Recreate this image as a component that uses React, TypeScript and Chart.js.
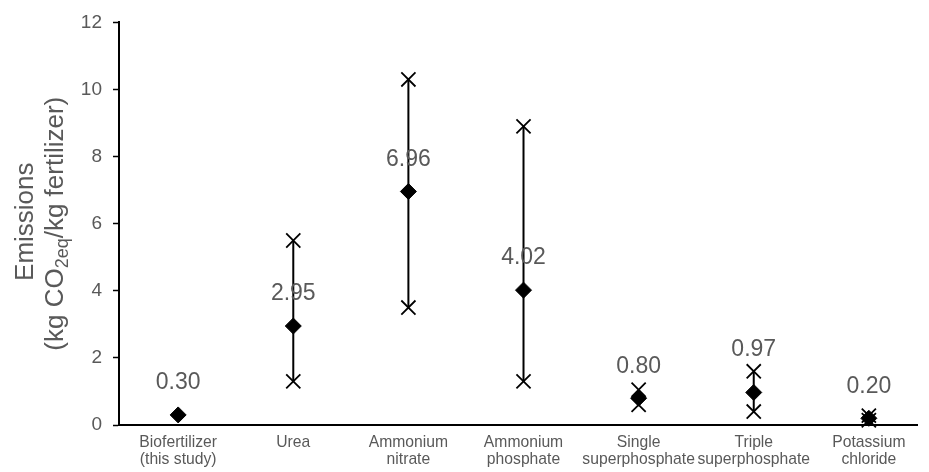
import React, { useEffect, useRef } from 'react';
import { Chart, registerables } from 'chart.js';

Chart.register(...registerables);

const categories: string[][] = [
  ['Biofertilizer', '(this study)'],
  ['Urea'],
  ['Ammonium', 'nitrate'],
  ['Ammonium', 'phosphate'],
  ['Single', 'superphosphate'],
  ['Triple', 'superphosphate'],
  ['Potassium', 'chloride'],
];
const means: number[] = [0.3, 2.95, 6.96, 4.02, 0.8, 0.97, 0.2];
const maxs: (number | null)[] = [null, 5.5, 10.3, 8.9, 1.05, 1.6, 0.28];
const mins: (number | null)[] = [null, 1.3, 3.5, 1.3, 0.6, 0.4, 0.14];
const yTicks: number[] = [0, 2, 4, 6, 8, 10, 12];

const FONT = "'Liberation Sans', Arial, sans-serif";
const GREY = '#595959';

const labelPlugin = {
  id: 'meanLabels',
  afterDatasetsDraw(chart: any) {
    const { ctx, scales } = chart;
    const xs = scales.x;
    const ys = scales.y;
    ctx.save();
    ctx.font = `23px ${FONT}`;
    ctx.fillStyle = GREY;
    ctx.textAlign = 'center';
    ctx.textBaseline = 'middle';
    means.forEach((m, i) => {
      const px = xs.getPixelForValue(i);
      const py = ys.getPixelForValue(m);
      let ly = py - 32;
      const mx = maxs[i];
      if (mx !== null) {
        const mpy = ys.getPixelForValue(mx);
        if (mpy > ly && mpy < py) ly = Math.min(ly, mpy - 22);
      }
      ctx.fillText(m.toFixed(2), px, ly);
    });
    ctx.restore();
  },
};

const titlePlugin = {
  id: 'yTitle',
  afterDraw(chart: any) {
    const { ctx, chartArea } = chart;
    const cy = (chartArea.top + chartArea.bottom) / 2;
    ctx.save();
    ctx.fillStyle = GREY;
    ctx.textBaseline = 'alphabetic';
    ctx.save();
    ctx.translate(33, cy - 2);
    ctx.rotate(-Math.PI / 2);
    ctx.font = `26px ${FONT}`;
    ctx.textAlign = 'center';
    ctx.fillText('Emissions', 0, 0);
    ctx.restore();
    ctx.save();
    ctx.translate(63, cy);
    ctx.rotate(-Math.PI / 2);
    ctx.textAlign = 'left';
    const main = `26px ${FONT}`;
    const sub = `18px ${FONT}`;
    const p1 = '(kg CO';
    const p2 = '2eq';
    const p3 = '/kg fertilizer)';
    ctx.font = main;
    const w1 = ctx.measureText(p1).width;
    const w3 = ctx.measureText(p3).width;
    ctx.font = sub;
    const w2 = ctx.measureText(p2).width;
    const total = w1 + w2 + w3;
    let x = -total / 2;
    ctx.font = main;
    ctx.fillText(p1, x, 0);
    x += w1;
    ctx.font = sub;
    ctx.fillText(p2, x, 5);
    x += w2;
    ctx.font = main;
    ctx.fillText(p3, x, 0);
    ctx.restore();
    ctx.restore();
  },
};

export default function App() {
  const ref = useRef<HTMLCanvasElement | null>(null);

  useEffect(() => {
    if (!ref.current) return;
    const rangeData: any[] = [];
    const crossData: any[] = [];
    means.forEach((_, i) => {
      const lo = mins[i];
      const hi = maxs[i];
      if (lo !== null && hi !== null) {
        rangeData.push({ x: i, y: lo }, { x: i, y: hi }, { x: i + 0.5, y: null });
        crossData.push({ x: i, y: lo }, { x: i, y: hi });
      }
    });
    const meanData = means.map((m, i) => ({ x: i, y: m }));

    const chart = new Chart(ref.current, {
      type: 'scatter',
      data: {
        datasets: [
          {
            type: 'scatter',
            data: meanData,
            pointStyle: 'rectRot',
            pointRadius: 8,
            pointHoverRadius: 8,
            backgroundColor: '#000',
            borderColor: '#000',
            borderWidth: 1,
            clip: false,
          } as any,
          {
            type: 'scatter',
            data: crossData,
            pointStyle: 'crossRot',
            pointRadius: 10,
            pointHoverRadius: 10,
            backgroundColor: '#000',
            borderColor: '#000',
            borderWidth: 1.8,
            clip: false,
          } as any,
          {
            type: 'line',
            data: rangeData,
            borderColor: '#000',
            borderWidth: 2,
            pointRadius: 0,
            spanGaps: false,
            fill: false,
            clip: false,
          } as any,
        ],
      },
      options: {
        animation: false,
        responsive: true,
        maintainAspectRatio: false,
        layout: { padding: { top: 19, left: 0, right: 0, bottom: 0 } },
        plugins: {
          legend: { display: false },
          tooltip: { enabled: false },
        },
        scales: {
          x: {
            type: 'linear',
            min: -0.514,
            max: 6.42,
            grid: { display: false, drawTicks: false },
            border: { display: true, color: '#000', width: 2 },
            afterBuildTicks: (scale: any) => {
              scale.ticks = categories.map((_, i) => ({ value: i }));
            },
            afterFit: (scale: any) => {
              scale.height = 47;
            },
            ticks: {
              autoSkip: false,
              maxRotation: 0,
              minRotation: 0,
              padding: 9,
              color: GREY,
              font: { family: FONT, size: 15.7, lineHeight: 1.08 },
              callback: (v: any) => {
                const idx = Math.round(Number(v));
                return categories[idx] ?? '';
              },
            },
          },
          y: {
            type: 'linear',
            min: 0,
            max: 12,
            afterBuildTicks: (scale: any) => {
              scale.ticks = yTicks.map((v) => ({ value: v }));
            },
            afterFit: (scale: any) => {
              scale.width = 119;
            },
            grid: {
              display: true,
              drawOnChartArea: false,
              drawTicks: true,
              tickLength: 6,
              tickColor: '#000',
              tickWidth: 1.5,
            },
            border: { display: true, color: '#000', width: 2 },
            ticks: {
              padding: 11,
              color: GREY,
              font: { family: FONT, size: 19 },
            },
          },
        },
      },
      plugins: [labelPlugin, titlePlugin],
    });
    return () => chart.destroy();
  }, []);

  return (
    <div style={{ position: 'fixed', left: 0, top: 0, width: 929, height: 472, background: '#fff' }}>
      <canvas ref={ref} />
    </div>
  );
}
